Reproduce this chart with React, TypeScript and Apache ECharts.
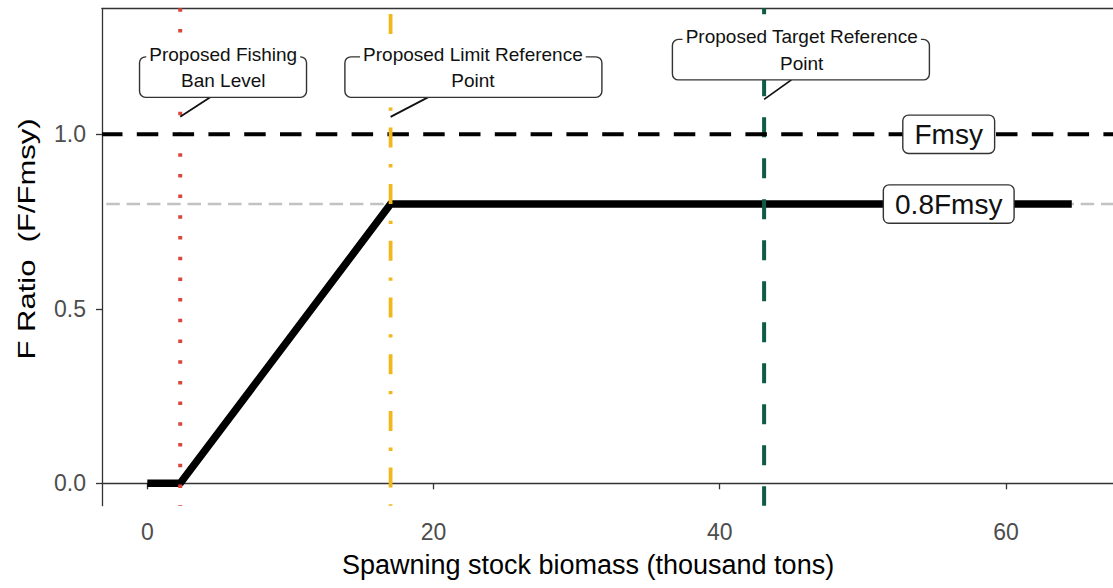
import React, { useEffect, useRef } from 'react';
import * as echarts from 'echarts';

// ---------- data ----------
const xTicks = [0, 20, 40, 60];
const yTicks = [0, 0.5, 1.0];
const curveX = [0, 2.3, 17, 64.6];
const curveY = [0, 0, 0.8, 0.8];
const refLineNames = ['Fmsy', '0.8Fmsy'];
const refLineValues = [1.0, 0.8];
const refLineLabelX = 56;
const refPointNames = [
  'Proposed Fishing\nBan Level',
  'Proposed Limit Reference\nPoint',
  'Proposed Target Reference\nPoint',
];
const refPointX = [2.3, 17, 43.1];
const refPointLabelY = [1.05, 1.05, 1.1];
const xTitle = 'Spawning stock biomass (thousand tons)';
const yTitle = 'F Ratio  (F/Fmsy)';

// ---------- layout / style ----------
const X_MIN = -3.166;
const X_MAX = 67.48;
const Y_MIN = -0.0642;
const Y_MAX = 1.361;
const FONT = "'Liberation Sans', Arial, Helvetica, sans-serif";

const annotLayout = [
  { boxL: -40.7, boxR: 126.3, textX: 43, leadX: 30 },
  { boxL: -45.7, boxR: 211.3, textX: 82.3, leadX: 37.3 },
  { boxL: -91.7, boxR: 165.3, textX: 37.6, leadX: 27.3 },
];
const BOX_TOP = -60;
const BOX_BOT = -19.5;
const LINE1 = -62.5;
const LINE2 = -36;

const vLineStyles = [
  { color: '#d9473c', width: 4, type: [3.5, 17.2], offset: 0, z: 3 },
  { color: '#f0b81c', width: 3.8, type: [20, 16.7, 3.3, 16.7], offset: 51.4, z: 6 },
  { color: '#0e5c45', width: 4, type: [20, 21], offset: 13.7, z: 4 },
];
const hLineStyles = [
  { color: '#000000', width: 4, type: [21.5, 14.3], offset: 1.1, z: 5 },
  { color: '#c2c2c2', width: 2.5, type: [13.5, 6.8], offset: 16, z: 1 },
];

export default function App() {
  const ref = useRef<HTMLDivElement>(null);

  useEffect(() => {
    if (!ref.current) return;
    const chart = echarts.init(ref.current, null, { renderer: 'svg' });

    const series: any[] = [];
    refLineValues.forEach((v, i) => {
      const s = hLineStyles[i];
      series.push({
        type: 'line',
        name: refLineNames[i] + ' line',
        data: [[X_MIN, v], [X_MAX, v]],
        symbol: 'none',
        silent: true,
        z: s.z,
        lineStyle: { color: s.color, width: s.width, type: s.type, dashOffset: s.offset, cap: 'butt' },
      });
    });
    series.push({
      type: 'line',
      name: 'Harvest control rule',
      data: curveX.map((x, i) => [x, curveY[i]]),
      symbol: 'none',
      silent: true,
      z: 2,
      lineStyle: { color: '#000', width: 7.5, cap: 'butt', join: 'round' },
    });
    refPointX.forEach((x, i) => {
      const s = vLineStyles[i];
      series.push({
        type: 'line',
        name: refPointNames[i].replace('\n', ' '),
        data: [[x, Y_MAX], [x, Y_MIN]],
        symbol: 'none',
        silent: true,
        z: s.z,
        lineStyle: { color: s.color, width: s.width, type: s.type, dashOffset: s.offset, cap: 'butt' },
      });
    });
    series.push({
      type: 'scatter',
      name: 'ref labels',
      data: refLineValues.map((v, i) => ({ value: [refLineLabelX, v], name: refLineNames[i] })),
      symbolSize: 1,
      itemStyle: { color: 'transparent', opacity: 1 },
      silent: true,
      z: 10,
      label: {
        show: true,
        position: 'inside',
        formatter: '{b}',
        fontSize: 28,
        fontFamily: FONT,
        color: '#111',
        opacity: 1,
        backgroundColor: '#fff',
        borderColor: '#333',
        borderWidth: 1.4,
        borderRadius: 5,
        padding: [5, 11, 4, 11],
      },
    });

    chart.setOption({
      animation: false,
      backgroundColor: '#fff',
      grid: { left: 102, right: 0, top: 8.3, bottom: 82.3, containLabel: false },
      xAxis: [
        {
          type: 'value',
          min: X_MIN,
          max: X_MAX,
          splitLine: { show: false },
          axisLine: { show: true, lineStyle: { color: '#333', width: 1.3 } },
          axisTick: { show: true, length: 6, customValues: xTicks, lineStyle: { color: '#333', width: 1.3 } },
          axisLabel: {
            show: true,
            customValues: xTicks,
            margin: 15,
            fontSize: 23,
            fontFamily: FONT,
            color: '#4d4d4d',
          },
        },
        {
          type: 'value',
          position: 'top',
          min: X_MIN,
          max: X_MAX,
          splitLine: { show: false },
          axisLine: { show: true, onZero: false, lineStyle: { color: '#333', width: 1.3 } },
          axisTick: { show: false },
          axisLabel: { show: false },
        },
      ],
      yAxis: {
        type: 'value',
        min: Y_MIN,
        max: Y_MAX,
        splitLine: { show: false },
        axisLine: { show: true, onZero: false, lineStyle: { color: '#333', width: 1.3 } },
        axisTick: { show: true, length: 6, customValues: yTicks, lineStyle: { color: '#333', width: 1.3 } },
        axisLabel: {
          show: true,
          customValues: yTicks,
          formatter: (v: number) => v.toFixed(1),
          margin: 16,
          fontSize: 23,
          fontFamily: FONT,
          color: '#4d4d4d',
        },
      },
      series,
    });

    const graphics: any[] = [];
    refPointNames.forEach((name, i) => {
      const p = chart.convertToPixel({ seriesIndex: 2 }, [refPointX[i], refPointLabelY[i]]) as number[];
      const [ax, ay] = p;
      const L = annotLayout[i];
      const lines = name.split('\n');
      graphics.push({
        type: 'line',
        silent: true,
        z: 20,
        shape: { x1: ax + L.leadX, y1: ay + BOX_BOT, x2: ax, y2: ay },
        style: { stroke: '#111', lineWidth: 1.8 },
      });
      graphics.push({
        type: 'rect',
        silent: true,
        z: 21,
        shape: { x: ax + L.boxL, y: ay + BOX_TOP, width: L.boxR - L.boxL, height: BOX_BOT - BOX_TOP, r: 6 },
        style: { fill: '#fff', stroke: '#333', lineWidth: 1.4 },
      });
      lines.forEach((t, j) => {
        graphics.push({
          type: 'text',
          silent: true,
          z: 22,
          x: ax + L.textX,
          y: ay + (j === 0 ? LINE1 : LINE2),
          style: {
            text: t,
            font: `19px ${FONT}`,
            fill: '#111',
            align: 'center',
            verticalAlign: 'middle',
            textAlign: 'center',
            textVerticalAlign: 'middle',
            backgroundColor: j === 0 ? '#fff' : undefined,
            padding: j === 0 ? [0, 3] : undefined,
          },
        });
      });
    });
    graphics.push({
      type: 'text',
      silent: true,
      x: 588,
      y: 565,
      style: {
        text: xTitle,
        font: `27px ${FONT}`,
        fill: '#000',
        align: 'center',
        verticalAlign: 'middle',
        textAlign: 'center',
        textVerticalAlign: 'middle',
      },
    });
    graphics.push({
      type: 'text',
      silent: true,
      x: 27,
      y: 239,
      rotation: Math.PI / 2,
      scaleY: 0.75,
      style: {
        text: yTitle,
        font: `31px ${FONT}`,
        fill: '#000',
        align: 'center',
        verticalAlign: 'middle',
        textAlign: 'center',
        textVerticalAlign: 'middle',
      },
    });
    chart.setOption({ graphic: graphics });

    return () => chart.dispose();
  }, []);

  return (
    <div
      ref={ref}
      style={{ position: 'absolute', left: 0, top: 0, width: 1113, height: 588, background: '#fff' }}
    />
  );
}
